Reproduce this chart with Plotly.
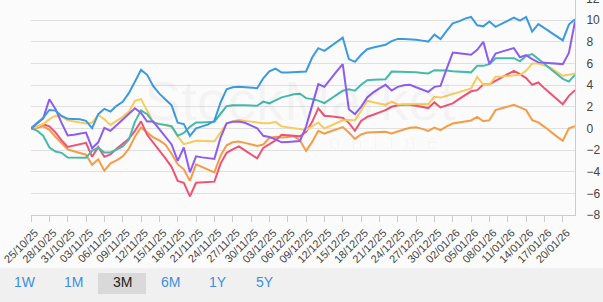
import pandas as pd
import plotly.graph_objects as go

dates = pd.date_range("2025-10-25", "2026-01-22", freq="D")

blue = [0.0, 0.48, 0.97, 1.7, 1.64, 1.15, 0.88, 0.86, 0.84, 0.69,
        0.02, 1.31, 1.8, 1.55, 2.08, 2.45, 3.25, 4.31, 5.4, 4.94,
        3.9, 3.2, 2.68, 2.12, 0.52, 0.39, -0.69, 0.0, 0.18, 0.37,
        0.69, 2.38, 3.61, 3.79, 3.85, 3.81, 3.76, 3.71, 4.62, 5.26,
        5.52, 5.15, 5.16, 5.17, 5.19, 5.25, 6.54, 7.4, 7.16, 7.57,
        7.99, 8.38, 6.39, 6.14, 6.79, 7.31, 7.47, 7.6, 7.71, 8.05,
        8.26, 8.26, 8.24, 8.17, 8.1, 8.01, 8.65, 8.24, 9.0, 9.7,
        9.88, 10.13, 10.28, 9.51, 9.42, 9.86, 9.37, 9.65, 9.94, 10.23,
        9.94, 10.28, 8.94, 9.62, 9.26, 8.86, 8.49, 8.12, 9.58, 10.08]

purple = [0.0, 0.46, 0.92, 2.68, 1.8, 0.5, -0.65, -0.6, -0.51, -0.39,
          -1.83, -1.29, 0.05, -0.23, 0.28, 0.78, 1.34, 1.85, 1.43, 0.63,
          0.63, -0.05, -0.78, -1.48, -3.0, -1.77, -4.06, -2.58, -2.68, -2.77,
          -2.82, -0.88, 0.46, 0.6, 0.63, 0.51, 0.28, 0.01, -0.69, -0.8,
          -1.02, -1.29, -1.25, -1.2, -1.17, 0.16, 2.12, 4.08, 3.83, 4.57,
          5.26, 5.93, 1.77, 1.31, 1.99, 2.86, 3.32, 3.69, 4.02, 3.49,
          3.83, 3.97, 4.02, 3.79, 3.55, 3.37, 3.83, 3.92, 5.49, 7.0,
          6.94, 6.88, 6.79, 7.25, 7.99, 5.93, 6.91, 7.08, 7.25, 7.41,
          6.56, 6.76, 6.39, 6.09, 6.05, 6.0, 5.96, 5.93, 6.97, 9.86]

teal = [0.0, -0.21, -0.69, -1.75, -2.14, -2.26, -2.7, -2.72, -2.75, -2.71,
        -2.08, -1.78, -2.23, -2.23, -1.96, -1.66, -1.06, 0.6, 1.66, 1.31,
        0.55, 0.39, 0.32, 0.2, -0.69, -0.42, 0.14, 0.54, 0.54, 0.54,
        0.6, 1.34, 2.05, 2.14, 2.17, 2.14, 2.11, 2.08, 2.47, 2.31,
        2.59, 2.86, 3.0, 3.14, 3.2, 2.79, 2.7, 2.56, 2.33, 2.72,
        3.11, 3.48, 3.6, 3.48, 4.02, 4.45, 4.48, 4.51, 4.54, 5.24,
        5.24, 5.23, 5.22, 5.18, 5.12, 5.07, 5.37, 5.37, 5.33, 5.28,
        5.24, 5.19, 5.17, 5.77, 5.77, 5.93, 6.48, 6.48, 6.48, 6.48,
        6.19, 6.69, 6.85, 6.42, 5.96, 5.47, 5.03, 4.57, 4.32, 4.94]

yellow = [0.0, 0.15, 0.4, 0.85, 1.15, 1.1, 0.74, 0.62, 0.54, 0.46,
          0.54, 1.25, 0.83, 0.32, 0.65, 1.06, 1.52, 2.54, 2.7, 1.57,
          0.55, 0.42, 0.28, 0.14, -0.74, -1.46, -1.31, -1.15, -1.17, -1.19,
          -1.2, -0.39, 0.46, 0.65, 0.76, 0.69, 0.62, 0.54, 0.48, 0.48,
          0.6, 0.18, 0.08, 0.0, -0.06, -0.16, 0.18, 0.54, -0.01, 0.23,
          0.48, 0.74, 0.76, 0.74, 1.63, 2.54, 2.41, 2.29, 2.17, 2.47,
          2.2, 2.22, 2.23, 2.24, 2.24, 2.24, 2.91, 2.84, 3.0, 3.16,
          3.31, 3.47, 3.69, 4.76, 4.02, 4.02, 4.76, 4.78, 4.82, 4.85,
          4.94, 5.31, 5.98, 5.98, 5.81, 5.61, 5.22, 4.85, 4.94, 5.06]

red = [0.0, 0.14, 0.37, 0.18, -0.37, -1.11, -1.71, -1.6, -1.51, -1.34,
       -2.63, -1.71, -2.63, -2.4, -1.89, -1.43, -0.97, -0.23, 0.65, -0.6,
       -1.29, -2.08, -2.77, -3.55, -4.85, -5.03, -6.28, -5.03, -5.0, -4.96,
       -4.92, -3.28, -2.26, -1.94, -1.66, -2.03, -2.4, -2.77, -1.8, -1.48,
       -1.11, -0.6, -0.65, -0.69, -0.74, -0.32, 0.6, 1.85, 1.17, 1.11,
       1.06, 0.97, 0.51, -0.23, 0.69, 1.06, 1.26, 1.48, 1.68, 1.99,
       2.14, 2.17, 2.17, 2.08, 1.99, 1.87, 2.4, 1.93, 2.12, 2.31,
       2.7, 3.07, 3.42, 3.53, 4.04, 4.08, 4.39, 4.66, 4.99, 5.31,
       5.0, 4.64, 4.02, 4.23, 3.69, 3.19, 2.7, 2.23, 3.0, 3.53]

orange = [0.0, 0.06, 0.2, -0.14, -0.78, -1.34, -1.94, -2.11, -2.26, -2.43,
          -3.37, -2.86, -3.91, -3.23, -2.95, -2.59, -1.89, -0.78, 0.09, -0.4,
          -0.83, -1.11, -1.52, -2.35, -3.31, -3.78, -4.85, -3.32, -3.55, -3.83,
          -4.06, -2.54, -1.57, -1.29, -1.22, -1.34, -1.49, -1.62, -1.49, -0.88,
          -0.78, -0.85, -0.81, -0.74, -1.09, -2.08, -1.25, -0.23, -0.48, -0.26,
          -0.05, 0.12, -0.39, -0.97, -0.57, -0.39, -0.37, -0.34, -0.32, -0.47,
          -0.26, -0.11, 0.05, 0.09, -0.05, -0.23, 0.07, -0.17, 0.18, 0.45,
          0.54, 0.62, 0.73, 1.06, 0.65, 0.76, 1.68, 1.85, 2.0, 2.17,
          1.94, 1.68, 0.76, 0.55, 0.14, -0.32, -0.74, -1.15, 0.0, 0.2]

series = [
    ("orange", orange, "#f59c46"),
    ("red", red, "#ef5273"),
    ("yellow", yellow, "#f9ca5c"),
    ("teal", teal, "#45b9ac"),
    ("purple", purple, "#8d5cf0"),
    ("blue", blue, "#3b9bdc"),
]

range_buttons = ["1W", "1M", "3M", "6M", "1Y", "5Y"]
selected_button = "3M"

fig = go.Figure()
for name, vals, col in series:
    fig.add_trace(go.Scatter(x=dates, y=vals, mode="lines", name=name,
                             line=dict(color=col, width=2), hoverinfo="skip"))

W, H = 603, 302
ml, mr, mt, mb = 31, 28, 0, 87
pw, ph = W - ml - mr, H - mt - mb

def px_x(px):
    return (px - ml) / pw

def px_y(py):
    return (H - mb - py) / ph

shapes = [
    dict(type="rect", xref="paper", yref="paper", x0=px_x(0), x1=px_x(W),
         y0=px_y(H), y1=px_y(268), fillcolor="#f0f0f0", line=dict(width=0),
         layer="below"),
]

annotations = []
# watermark
annotations.append(dict(text="StockMarket", xref="paper", yref="paper",
                        x=px_x(300), y=px_y(100), showarrow=False,
                        font=dict(size=56, color="rgba(0,0,0,0.03)",
                                  family="Liberation Sans")))
annotations.append(dict(text="o  n  l  i  n  e", xref="paper", yref="paper",
                        x=px_x(440), y=px_y(142), showarrow=False,
                        font=dict(size=20, color="rgba(0,0,0,0.03)",
                                  family="Liberation Sans")))
# cut-off top label
annotations.append(dict(text="12", xref="paper", yref="paper",
                        x=px_x(584), y=px_y(-1.0), xanchor="left",
                        yanchor="middle", showarrow=False,
                        font=dict(size=12, color="#444",
                                  family="Liberation Sans")))

btn_x = [25, 73, 122, 170, 218, 265]
for lab, bx in zip(range_buttons, btn_x):
    sel = lab == selected_button
    if sel:
        shapes.append(dict(type="rect", xref="paper", yref="paper",
                           x0=px_x(98), x1=px_x(146), y0=px_y(294), y1=px_y(273),
                           fillcolor="#d9d9d9", line=dict(width=0)))
    annotations.append(dict(text=lab, xref="paper", yref="paper",
                            x=px_x(bx), y=px_y(282), showarrow=False,
                            xanchor="center", yanchor="middle",
                            font=dict(size=14, color="#222" if sel else "#3d8fe0",
                                      family="Liberation Sans")))

fig.update_layout(
    width=W, height=H,
    margin=dict(l=ml, r=mr, t=mt, b=mb),
    paper_bgcolor="#fbfbfb", plot_bgcolor="#fbfbfb",
    showlegend=False,
    shapes=shapes, annotations=annotations,
    xaxis=dict(type="date", range=["2025-10-25", "2026-01-22"],
               tick0="2025-10-25", dtick=3 * 86400000, tickformat="%d/%m/%y",
               tickangle=-45, ticks="outside", ticklen=6, tickcolor="#cccccc",
               ticklabeloverflow="allow", ticklabelshift=4,
               showgrid=False, showline=True, linecolor="#cccccc",
               tickfont=dict(size=11, color="#444", family="Liberation Sans"),
               zeroline=False, fixedrange=True),
    yaxis=dict(side="right", range=[-8, 11.85], tick0=-8, dtick=2,
               showgrid=True, gridcolor="#e0e0e0", gridwidth=1,
               showline=True, linecolor="#cccccc", zeroline=False,
               ticks="", ticklabelstandoff=8,
               tickfont=dict(size=12, color="#444", family="Liberation Sans"),
               fixedrange=True),
)

fig.write_html("out.html", config={"displayModeBar": False})
